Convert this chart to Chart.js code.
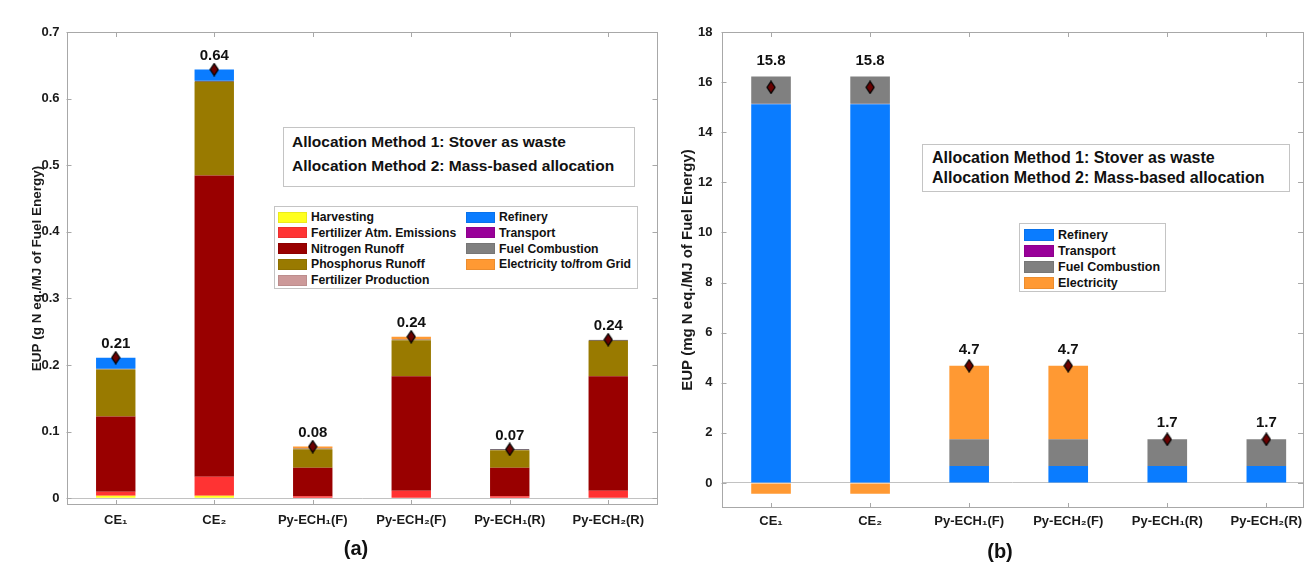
<!DOCTYPE html>
<html lang="en">
<head>
  <meta charset="UTF-8" />
  <title>EUP by allocation method</title>
  <script src="https://cdn.jsdelivr.net/npm/chart.js"></script>
  <style>
    body {
      margin: 0;
      width: 1308px;
      height: 577px;
      overflow: hidden;
      position: relative;
      background: #fff;
      font-family: 'Liberation Sans', Arial, sans-serif;
      font-weight: bold;
      color: #111;
    }
    canvas { position: absolute; top: 0; }
    #chartA { left: 0; }
    #chartB { left: 665px; }
    .note {
      position: absolute;
      box-sizing: border-box;
      border: 1px solid #c4c4c4;
      background: #fff;
      white-space: nowrap;
    }
    .legend {
      position: absolute;
      box-sizing: border-box;
      border: 1px solid #c4c4c4;
      background: #fff;
    }
    .legend .item {
      position: absolute;
      white-space: nowrap;
      display: flex;
      align-items: center;
    }
    .legend .sw { display: inline-block; margin-right: 4px; }
    .panel { position: absolute; font-size: 20px; transform: translate(-50%, -50%); }
  </style>
</head>
<body>
  <canvas id="chartA" width="665" height="577"></canvas>
  <canvas id="chartB" width="660" height="577"></canvas>

  <div class="note" style="left:283px; top:127px; width:352px; height:60px; padding:2px 0 0 8px; font-size:15.5px; line-height:24px;">
    Allocation Method 1: Stover as waste<br>Allocation Method 2: Mass-based allocation
  </div>
  <div class="note" style="left:922px; top:144px; width:368px; height:48px; padding:3px 0 0 9px; font-size:16px; line-height:19.5px;">
    Allocation Method 1: Stover as waste<br>Allocation Method 2: Mass-based allocation
  </div>

  <div class="legend" id="legendA" style="left:274px; top:206px; width:364px; height:83px;"></div>
  <div class="legend" id="legendB" style="left:1019px; top:223px; width:147px; height:69px;"></div>

  <div class="panel" style="left:356px; top:548px;">(a)</div>
  <div class="panel" style="left:1000px; top:551px;">(b)</div>

  <script>
    const categories = ['CE₁', 'CE₂', 'Py-ECH₁(F)', 'Py-ECH₂(F)', 'Py-ECH₁(R)', 'Py-ECH₂(R)'];

    // (a) g N eq./MJ of fuel energy
    const ticksA = [0, 0.1, 0.2, 0.3, 0.4, 0.5, 0.6, 0.7];
    const harvestingA     = [0.004, 0.004, 0, 0, 0, 0];
    const fertAtmA        = [0.006, 0.0285, 0.003, 0.0114, 0.003, 0.0114];
    const nitrogenA       = [0.113, 0.452, 0.043, 0.172, 0.043, 0.172];
    const phosphorusA     = [0.0705, 0.141, 0.0275, 0.054, 0.026, 0.0533];
    const fertProdA       = [0, 0, 0, 0, 0, 0];
    const transportA      = [0.0012, 0.0012, 0.0012, 0.0012, 0.0015, 0.0015];
    const refineryA       = [0.0165, 0.017, 0, 0, 0, 0];
    const fuelCombA       = [0, 0, 0, 0, 0, 0];
    const electricityA    = [0, 0, 0.003, 0.004, 0, 0];
    const totalLabelsA    = ['0.21', '0.64', '0.08', '0.24', '0.07', '0.24'];

    // (b) mg N eq./MJ of fuel energy
    const ticksB = [0, 2, 4, 6, 8, 10, 12, 14, 16, 18];
    const refineryB       = [15.12, 15.12, 0.68, 0.68, 0.68, 0.68];
    const transportB      = [0.03, 0.03, 0, 0, 0, 0];
    const fuelCombB       = [1.07, 1.07, 1.06, 1.06, 1.06, 1.06];
    const electricityB    = [-0.43, -0.43, 2.94, 2.94, 0, 0];
    const totalLabelsB    = ['15.8', '15.8', '4.7', '4.7', '1.7', '1.7'];

    const FONT = "'Liberation Sans', Arial, sans-serif";
    Chart.defaults.font.family = FONT;
    Chart.defaults.font.weight = 'bold';
    Chart.defaults.color = '#1a1a1a';

    const COL = {
      harvesting: '#ffff1f',
      fertAtm: '#ff3333',
      nitrogen: '#990000',
      phosphorus: '#997a00',
      fertProd: '#cc9999',
      refinery: '#0a7cff',
      transport: '#990099',
      fuelComb: '#808080',
      electricity: '#ff9933'
    };

    function diamond() {
      const c = document.createElement('canvas');
      c.width = 10; c.height = 14;
      const g = c.getContext('2d');
      g.beginPath();
      g.moveTo(5, 1); g.lineTo(9, 7); g.lineTo(5, 13); g.lineTo(1, 7); g.closePath();
      g.fillStyle = '#6a0000'; g.fill();
      g.lineWidth = 1.3; g.strokeStyle = '#000'; g.stroke();
      return c;
    }
    const diamondImg = diamond();

    const xy = arr => arr.map((v, i) => ({ x: i + 1, y: v }));

    function barSet(label, arr, color, dark) {
      const ds = {
        type: 'bar', label, data: xy(arr), backgroundColor: color,
        barPercentage: 0.4, categoryPercentage: 1, order: 1, borderWidth: 0
      };
      if (dark) { ds.borderColor = dark; ds.borderWidth = 2; ds.borderSkipped = false; }
      return ds;
    }

    const frame = {
      id: 'frame',
      afterDatasetsDraw(chart, args, o) {
        const { ctx, chartArea: a, scales: { x, y } } = chart;
        ctx.save();
        ctx.strokeStyle = '#a8a8a8';
        ctx.lineWidth = 1;
        ctx.strokeRect(Math.round(a.left) + 0.5, Math.round(a.top) + 0.5,
          Math.round(a.width) - 1, Math.round(a.height) - 1);
        ctx.beginPath();
        y.ticks.forEach(t => {
          const py = Math.round(y.getPixelForValue(t.value)) + 0.5;
          ctx.moveTo(a.left, py); ctx.lineTo(a.left + 5, py);
          ctx.moveTo(a.right - 5, py); ctx.lineTo(a.right, py);
        });
        x.ticks.forEach(t => {
          const px = Math.round(x.getPixelForValue(t.value)) + 0.5;
          ctx.moveTo(px, a.bottom); ctx.lineTo(px, a.bottom - 5);
          ctx.moveTo(px, a.top); ctx.lineTo(px, a.top + 5);
        });
        ctx.stroke();

        ctx.fillStyle = '#111';
        ctx.font = 'bold 15px ' + FONT;
        ctx.textAlign = 'center';
        ctx.textBaseline = 'middle';
        o.labels.forEach((s, i) => {
          ctx.fillText(s, x.getPixelForValue(i + 1), y.getPixelForValue(o.tops[i]) - o.gap);
        });
        ctx.restore();
      }
    };

    function makeChart(id, bars, cfg) {
      const n = categories.length;
      const net = [], tops = [];
      for (let i = 0; i < n; i++) {
        let s = 0, p = 0;
        bars.forEach(b => { const v = b.data[i].y; s += v; if (v > 0) p += v; });
        net.push(s); tops.push(p);
      }
      const datasets = bars.concat([{
        type: 'line', label: 'Net', data: xy(net), showLine: false,
        pointStyle: diamondImg, pointRadius: 6, stack: 'net', order: 0
      }]);

      return new Chart(document.getElementById(id), {
        data: { datasets },
        options: {
          responsive: false,
          animation: false,
          layout: { padding: cfg.padding },
          plugins: {
            legend: { display: false },
            tooltip: { enabled: false },
            frame: { labels: cfg.labels, tops, gap: cfg.gap }
          },
          scales: {
            x: {
              type: 'linear', stacked: true, offset: false,
              min: 0.5, max: cfg.xMax,
              grid: { display: false, drawTicks: false, offset: false },
              border: { display: false },
              afterBuildTicks: s => { s.ticks = categories.map((_, i) => ({ value: i + 1 })); },
              afterFit: s => { s.height = cfg.xHeight; },
              ticks: {
                autoSkip: false, maxRotation: 0, padding: cfg.xPad,
                font: { size: 13, weight: 'bold' }, color: '#1a1a1a',
                callback: (v, i) => categories[i]
              }
            },
            y: {
              stacked: true,
              min: cfg.yMin, max: cfg.yMax,
              border: { display: false },
              grid: {
                drawTicks: false,
                color: c => (c.tick && c.tick.value === 0) ? '#c2c2c2' : 'rgba(0,0,0,0)'
              },
              afterBuildTicks: s => { s.ticks = cfg.ticks.map(v => ({ value: v })); },
              afterFit: s => { s.width = cfg.yWidth; },
              ticks: {
                padding: cfg.tickPad,
                font: { size: 13, weight: 'bold' }, color: '#1a1a1a',
                callback: v => String(v)
              },
              title: {
                display: true, text: cfg.title, color: '#1a1a1a',
                font: { size: cfg.titleSize, weight: 'bold' },
                padding: { top: cfg.titlePad, bottom: 0 }
              }
            }
          }
        },
        plugins: [frame]
      });
    }

    makeChart('chartA', [
      barSet('Harvesting', harvestingA, COL.harvesting),
      barSet('Fertilizer Atm. Emissions', fertAtmA, COL.fertAtm),
      barSet('Nitrogen Runoff', nitrogenA, COL.nitrogen),
      barSet('Phosphorus Runoff', phosphorusA, COL.phosphorus),
      barSet('Fertilizer Production', fertProdA, COL.fertProd),
      barSet('Transport', transportA, COL.transport, '#140010'),
      barSet('Refinery', refineryA, COL.refinery),
      barSet('Fuel Combustion', fuelCombA, COL.fuelComb),
      barSet('Electricity to/from Grid', electricityA, COL.electricity)
    ], {
      padding: { top: 32, right: 7.5, bottom: 0, left: 0 },
      xMax: 6.5, xHeight: 72, xPad: 8, yWidth: 66.5, tickPad: 7,
      titleSize: 13.5, titlePad: 29,
      yMin: -0.01, yMax: 0.7, ticks: ticksA,
      title: 'EUP (g N eq./MJ of Fuel Energy)',
      labels: totalLabelsA, gap: 14
    });

    makeChart('chartB', [
      barSet('Refinery', refineryB, COL.refinery),
      barSet('Transport', transportB, COL.transport, '#1c1640'),
      barSet('Fuel Combustion', fuelCombB, COL.fuelComb),
      barSet('Electricity', electricityB, COL.electricity)
    ], {
      padding: { top: 32, right: 22, bottom: 0, left: 0 },
      xMax: 6.37, xHeight: 69, xPad: 6, yWidth: 56.5, tickPad: 9,
      titleSize: 15, titlePad: 14,
      yMin: -1, yMax: 18, ticks: ticksB,
      title: 'EUP (mg N eq./MJ of Fuel Energy)',
      labels: totalLabelsB, gap: 16
    });

    // legends
    const legendA = [
      ['Harvesting', COL.harvesting], ['Fertilizer Atm. Emissions', COL.fertAtm],
      ['Nitrogen Runoff', COL.nitrogen], ['Phosphorus Runoff', COL.phosphorus],
      ['Fertilizer Production', COL.fertProd],
      ['Refinery', COL.refinery], ['Transport', COL.transport],
      ['Fuel Combustion', COL.fuelComb], ['Electricity to/from Grid', COL.electricity]
    ];
    const legendB = [
      ['Refinery', COL.refinery], ['Transport', COL.transport],
      ['Fuel Combustion', COL.fuelComb], ['Electricity', COL.electricity]
    ];

    function buildLegend(id, items, o) {
      const box = document.getElementById(id);
      items.forEach((it, i) => {
        const col = Math.floor(i / o.rows), row = i % o.rows;
        const d = document.createElement('div');
        d.className = 'item';
        d.style.left = (o.x0 + col * o.colW) + 'px';
        d.style.top = (o.y0 + row * o.rowH - o.swH / 2) + 'px';
        d.style.fontSize = o.font + 'px';
        d.style.height = o.swH + 'px';
        d.innerHTML = `<span class="sw" style="width:${o.swW}px;height:${o.swH}px;background:${it[1]};box-shadow:inset 0 0 0 1px rgba(0,0,0,0.08)"></span>${it[0]}`;
        box.appendChild(d);
      });
    }
    buildLegend('legendA', legendA, { rows: 5, x0: 3, y0: 10, colW: 188, rowH: 15.75, swW: 29, swH: 11, font: 12.2 });
    buildLegend('legendB', legendB, { rows: 4, x0: 4, y0: 10.5, colW: 0, rowH: 16, swW: 30, swH: 12, font: 12.5 });
  </script>
</body>
</html>
